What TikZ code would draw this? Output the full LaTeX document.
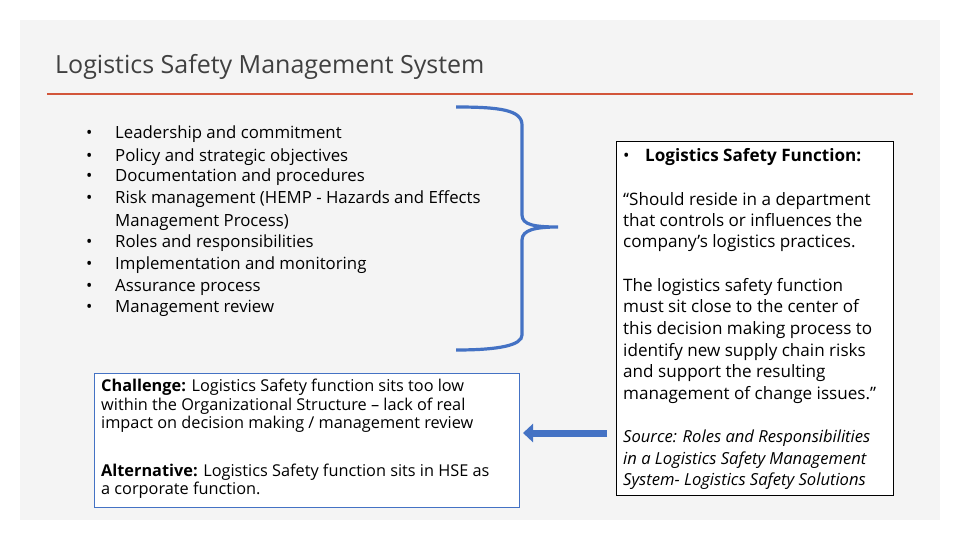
\documentclass[tikz,border=0pt]{standalone}
\usepackage{fontspec}
\setmainfont{Open Sans}
\usetikzlibrary{arrows.meta}
\definecolor{bg}{HTML}{F4F4F4}
\definecolor{rl}{HTML}{D2553A}
\definecolor{bl}{HTML}{4472C4}
\tikzset{
 tx/.style={anchor=base west,inner sep=0pt,font=\fontsize{16.8}{20}\selectfont},
 qx/.style={anchor=base west,inner sep=0pt,font=\fontsize{17.1}{20}\selectfont},
 sx/.style={anchor=base west,inner sep=0pt,font=\fontsize{16.3}{18}\selectfont},
}
\begin{document}
\begin{tikzpicture}[x=1pt,y=-1pt]
\useasboundingbox (0,0) rectangle (960,540);
\fill[white] (0,0) rectangle (960,540);
\fill[bg] (20,20) rectangle (940,520);
\node[anchor=base west,inner sep=0pt,text=black!75,font=\fontsize{25}{28}\selectfont] (title) at (55,74) {Logistics Safety Management System};
\coordinate (r1) at (47,94); \coordinate (r2) at (913,94);
\draw[rl,line width=1.6pt] (r1) -- (r2);
\foreach \t/\y [count=\i] in {Leadership and commitment/139,Policy and strategic objectives/161,Documentation and procedures/182,Risk management (HEMP - Hazards and Effects/204,Roles and responsibilities/247,Implementation and monitoring/269,Assurance process/291,Management review/312}{
 \node[tx] (b\i) at (115,\y) {\t};
 \node[tx] (d\i) at (86,\y) {•};
}
\node[tx] (b4b) at (115,226) {Management Process)};
\coordinate (k1) at (456,107); \coordinate (k2) at (522,215); \coordinate (tip) at (558,227);
\coordinate (k3) at (522,240); \coordinate (k4) at (456,350);
\draw[bl,line width=3.2pt] (k1) .. controls (500,107) and (522,110) .. (522,125) -- (k2) .. controls (522,225) and (535,227) .. (tip) .. controls (535,227) and (522,230) .. (k3) -- (522,335) .. controls (522,345) and (500,350) .. (k4);
\node[draw=bl,fill=white,line width=1pt,minimum width=425,minimum height=134,anchor=north west,inner sep=0pt] (lb) at (94,373) {};
\node[sx] (c1) at (101,391) {\textbf{Challenge:} Logistics Safety function sits too low};
\node[sx] (c2) at (101,410) {within the Organizational Structure – lack of real};
\node[sx] (c3) at (101,428) {impact on decision making / management review};
\node[sx] (c4) at (101,476) {\textbf{Alternative:} Logistics Safety function sits in HSE as};
\node[sx] (c5) at (101,494) {a corporate function.};
\node[draw=black,fill=white,line width=1pt,minimum width=277,minimum height=354,anchor=north west,inner sep=0pt] (rb) at (616,141) {};
\node[qx] (f0) at (623,161) {•};
\node[qx] (f1) at (645,161) {\textbf{Logistics Safety Function:}};
\foreach \t/\y [count=\i] in {“Should reside in a department/205,that controls or influences the/226,company’s logistics practices./247,The logistics safety function/291,must sit close to the center of/312,this decision making process to/334,identify new supply chain risks/356,and support the resulting/377,management of change issues.”/399}{
 \node[qx] (q\i) at (623,\y) {\t};
}
\foreach \t/\y [count=\i] in {Source: Roles and Responsibilities/442,in a Logistics Safety Management/464,System- Logistics Safety Solutions/485}{
 \node[qx,font=\fontsize{16.6}{20}\selectfont\itshape] (s\i) at (623,\y) {\t};
}
\coordinate (a1) at (607,433); \coordinate (a2) at (523,433);
\draw[bl,line width=7pt,-{Triangle[length=10pt,width=18pt]}] (a1) -- (a2);
\end{tikzpicture}
\end{document}
